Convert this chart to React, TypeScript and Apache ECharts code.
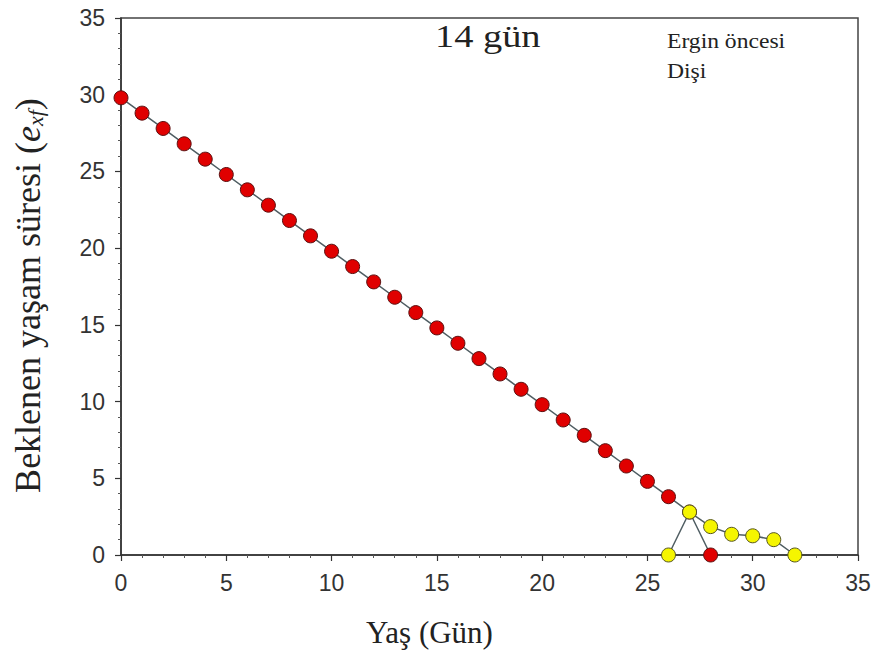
import React, { useEffect, useRef } from "react";
import * as echarts from "echarts";

const redAges = [0, 1, 2, 3, 4, 5, 6, 7, 8, 9, 10, 11, 12, 13, 14, 15, 16, 17, 18, 19, 20, 21, 22, 23, 24, 25, 26, 27, 28];
const redValues = [29.8, 28.8, 27.8, 26.8, 25.8, 24.8, 23.8, 22.8, 21.8, 20.8, 19.8, 18.8, 17.8, 16.8, 15.8, 14.8, 13.8, 12.8, 11.8, 10.8, 9.8, 8.8, 7.8, 6.8, 5.8, 4.8, 3.8, 2.8, 0];
const yellowAges = [26, 27, 28, 29, 30, 31, 32];
const yellowValues = [0, 2.8, 1.85, 1.35, 1.25, 1.0, 0];
const axisTicks = [0, 5, 10, 15, 20, 25, 30, 35];

export default function App() {
  const ref = useRef<HTMLDivElement>(null);
  useEffect(() => {
    if (!ref.current) return;
    const chart = echarts.init(ref.current, null, { renderer: "svg" });
    const serif = "'Liberation Serif', 'Times New Roman', serif";
    const sans = "'Liberation Sans', Arial, sans-serif";
    const axisCommon = {
      type: "value",
      min: axisTicks[0],
      max: axisTicks[axisTicks.length - 1],
      interval: 5,
      axisLine: { show: true, lineStyle: { color: "#333", width: 1.5 } },
      axisTick: { show: true, inside: false, length: 6, lineStyle: { color: "#333", width: 1.2 } },
      minorTick: { show: true, splitNumber: 5, length: 3, lineStyle: { color: "#555", width: 1 } },
      splitLine: { show: false },
      axisLabel: { color: "#333", fontSize: 23, fontFamily: sans },
    };
    chart.setOption({
      animation: false,
      backgroundColor: "#fff",
      grid: {
        left: 121, right: 24, top: 18, bottom: 113,
        outerBoundsMode: "none", containLabel: false,
        show: true, borderColor: "#444", borderWidth: 1.5, backgroundColor: "transparent",
      },
      xAxis: {
        ...axisCommon,
        name: "Yaş (Gün)",
        nameLocation: "middle",
        nameGap: 62,
        nameTextStyle: { fontFamily: serif, fontSize: 31, color: "#222", padding: [0, 120, 0, 0] },
        axisLabel: { ...axisCommon.axisLabel, margin: 16 },
      },
      yAxis: {
        ...axisCommon,
        name: "Beklenen yaşam süresi ({i|e}{sub|xf}{n|)}",
        nameLocation: "middle",
        nameGap: 75,
        nameTextStyle: {
          fontFamily: serif,
          fontSize: 36,
          color: "#222",
          padding: [0, 18, 0, 0],
          rich: {
            i: { fontFamily: serif, fontSize: 36, fontStyle: "italic", color: "#222" },
            sub: { fontFamily: serif, fontSize: 22, fontStyle: "italic", color: "#222", verticalAlign: "bottom", padding: [12, 0, 0, 0] },
            n: { fontFamily: serif, fontSize: 36, color: "#222" },
          },
        },
        axisLabel: { ...axisCommon.axisLabel, margin: 16 },
      },
      graphic: [
        { type: "text", x: 435, y: 21, scaleX: 1.2, style: { text: "14 gün", fontFamily: serif, fontSize: 32, fill: "#222", textVerticalAlign: "top" } },
        { type: "text", x: 667, y: 32, scaleX: 1.18, style: { text: "Ergin öncesi", fontFamily: serif, fontSize: 20, fill: "#222", textVerticalAlign: "top" } },
        { type: "text", x: 667, y: 62, scaleX: 1.18, style: { text: "Dişi", fontFamily: serif, fontSize: 20, fill: "#222", textVerticalAlign: "top" } },
      ],
      series: [
        {
          type: "line",
          data: redAges.map((a, i) => [a, redValues[i]]),
          symbol: "circle",
          symbolSize: 14,
          lineStyle: { color: "#4f5d62", width: 1.5 },
          itemStyle: { color: "#e00000", borderColor: "#5a1010", borderWidth: 1 },
          z: 2,
        },
        {
          type: "line",
          data: yellowAges.map((a, i) => [a, yellowValues[i]]),
          symbol: "circle",
          symbolSize: 14,
          lineStyle: { color: "#4f5d62", width: 1.5 },
          itemStyle: { color: "#f5f500", borderColor: "#555520", borderWidth: 1 },
          z: 3,
        },
      ],
    });
    return () => chart.dispose();
  }, []);
  return <div ref={ref} style={{ position: "absolute", left: 0, top: 0, width: 882, height: 668 }} />;
}
